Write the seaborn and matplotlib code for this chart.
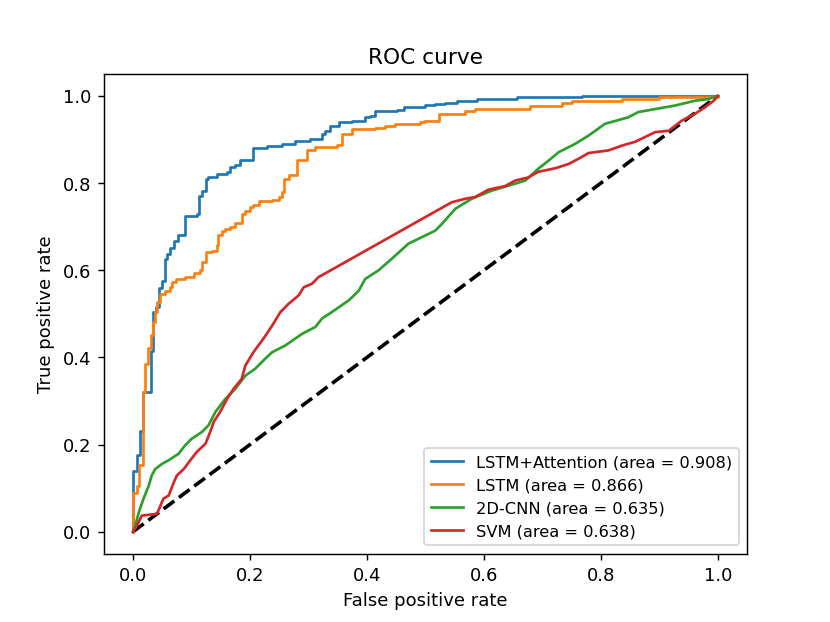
import matplotlib
matplotlib.use("Agg")
import matplotlib.pyplot as plt
import seaborn as sns
import pandas as pd

# LSTM+Attention (staircase corners: at fpr, tpr rises to value)
att_fpr = [0.0, 0.0, 0.007, 0.0125, 0.0165, 0.031, 0.035, 0.04, 0.045, 0.05, 0.055, 0.058, 0.064,
           0.07, 0.077, 0.089, 0.109, 0.112, 0.118, 0.124, 0.129, 0.144, 0.161, 0.166, 0.175, 0.183,
           0.206, 0.229, 0.255, 0.277, 0.303, 0.323, 0.329, 0.337, 0.352, 0.374, 0.397, 0.406, 0.414,
           0.451, 0.463, 0.5, 0.516, 0.533, 0.554, 0.588, 0.656, 0.768, 1.0]
att_tpr = [0.0, 0.14, 0.175, 0.23, 0.32, 0.415, 0.505, 0.515, 0.56, 0.575, 0.626, 0.637, 0.65,
           0.668, 0.68, 0.725, 0.73, 0.77, 0.783, 0.81, 0.814, 0.82, 0.826, 0.836, 0.842, 0.854,
           0.88, 0.886, 0.89, 0.897, 0.901, 0.913, 0.92, 0.932, 0.94, 0.943, 0.951, 0.955, 0.966,
           0.968, 0.974, 0.979, 0.982, 0.984, 0.989, 0.993, 0.997, 1.0, 1.0]

# LSTM
lstm_fpr = [0.0, 0.0, 0.007, 0.011, 0.017, 0.021, 0.025, 0.03, 0.034, 0.037, 0.041, 0.047, 0.055,
            0.063, 0.067, 0.074, 0.089, 0.104, 0.115, 0.118, 0.124, 0.135, 0.144, 0.146, 0.152,
            0.158, 0.166, 0.175, 0.186, 0.192, 0.2, 0.206, 0.215, 0.238, 0.249, 0.255, 0.259, 0.266,
            0.28, 0.297, 0.312, 0.349, 0.357, 0.374, 0.414, 0.431, 0.448, 0.49, 0.497, 0.523, 0.568,
            0.585, 0.679, 0.733, 0.75, 0.836, 0.9, 1.0]
lstm_tpr = [0.0, 0.09, 0.106, 0.152, 0.32, 0.385, 0.422, 0.452, 0.482, 0.505, 0.527, 0.546, 0.553,
            0.561, 0.573, 0.58, 0.585, 0.593, 0.6, 0.618, 0.641, 0.645, 0.657, 0.68, 0.689,
            0.695, 0.699, 0.709, 0.73, 0.737, 0.745, 0.749, 0.758, 0.762, 0.768, 0.779, 0.81, 0.819,
            0.852, 0.877, 0.882, 0.888, 0.913, 0.923, 0.926, 0.932, 0.936, 0.94, 0.943, 0.959, 0.966,
            0.971, 0.977, 0.984, 0.989, 0.993, 0.998, 1.0]

# 2D-CNN
cnn_fpr = [0.0, 0.004, 0.01, 0.018, 0.027, 0.032, 0.038, 0.05, 0.061, 0.078, 0.089, 0.1, 0.118,
           0.129, 0.141, 0.158, 0.175, 0.192, 0.209, 0.226, 0.238, 0.26, 0.289, 0.312, 0.323, 0.34,
           0.369, 0.386, 0.397, 0.42, 0.443, 0.471, 0.517, 0.528, 0.551, 0.579, 0.614, 0.642, 0.671,
           0.693, 0.711, 0.728, 0.756, 0.779, 0.807, 0.847, 0.864, 0.927, 0.961, 0.984, 1.0]
cnn_tpr = [0.0, 0.015, 0.045, 0.076, 0.106, 0.129, 0.144, 0.156, 0.164, 0.179, 0.198, 0.213, 0.229,
           0.244, 0.275, 0.305, 0.328, 0.358, 0.374, 0.397, 0.412, 0.427, 0.454, 0.47, 0.489, 0.504,
           0.531, 0.553, 0.58, 0.6, 0.627, 0.661, 0.691, 0.706, 0.741, 0.764, 0.783, 0.794, 0.806,
           0.833, 0.852, 0.871, 0.89, 0.909, 0.936, 0.951, 0.963, 0.978, 0.989, 0.993, 1.0]

# SVM
svm_fpr = [0.0, 0.007, 0.015, 0.041, 0.047, 0.052, 0.061, 0.07, 0.075, 0.087, 0.098, 0.109, 0.124,
           0.132, 0.138, 0.149, 0.161, 0.172, 0.186, 0.192, 0.206, 0.223, 0.238, 0.252, 0.266, 0.283,
           0.292, 0.306, 0.317, 0.545, 0.568, 0.585, 0.608, 0.636, 0.654, 0.676, 0.693, 0.722, 0.745,
           0.762, 0.779, 0.813, 0.836, 0.859, 0.893, 0.916, 0.938, 0.961, 0.978, 0.993, 1.0]
svm_tpr = [0.0, 0.015, 0.037, 0.041, 0.06, 0.076, 0.083, 0.114, 0.129, 0.144, 0.164, 0.183, 0.202,
           0.229, 0.252, 0.275, 0.305, 0.328, 0.351, 0.381, 0.412, 0.443, 0.473, 0.504, 0.523, 0.542,
           0.561, 0.569, 0.584, 0.756, 0.764, 0.768, 0.785, 0.793, 0.806, 0.813, 0.826, 0.834, 0.844,
           0.856, 0.869, 0.875, 0.886, 0.895, 0.917, 0.92, 0.943, 0.959, 0.974, 0.989, 1.0]

labels = ["LSTM+Attention (area = 0.908)", "LSTM (area = 0.866)",
          "2D-CNN (area = 0.635)", "SVM (area = 0.638)"]
colors = ["#1f77b4", "#ff7f0e", "#2ca02c", "#d62728"]
series = [(att_fpr, att_tpr, "steps-post"), (lstm_fpr, lstm_tpr, "steps-post"),
          (cnn_fpr, cnn_tpr, "default"), (svm_fpr, svm_tpr, "default")]

plt.rcParams['font.family'] = ['DejaVu Sans']
fig, ax = plt.subplots(figsize=(6.4, 4.8), dpi=129.7)

diag = pd.DataFrame({"x": [0, 1], "y": [0, 1]})
sns.lineplot(data=diag, x="x", y="y", ax=ax, color="k", linestyle="--", linewidth=2,
             estimator=None, sort=False)

for (fx, ty, ds), lab, col in zip(series, labels, colors):
    df = pd.DataFrame({"fpr": fx, "tpr": ty})
    sns.lineplot(data=df, x="fpr", y="tpr", ax=ax, color=col, label=lab, linewidth=1.5,
                 estimator=None, sort=False, drawstyle=ds)

ax.set_xlabel("False positive rate")
ax.set_ylabel("True positive rate")
ax.set_title("ROC curve")
ax.legend(loc="lower right", fontsize=9)
fig.savefig("out.png", dpi=129.7)
